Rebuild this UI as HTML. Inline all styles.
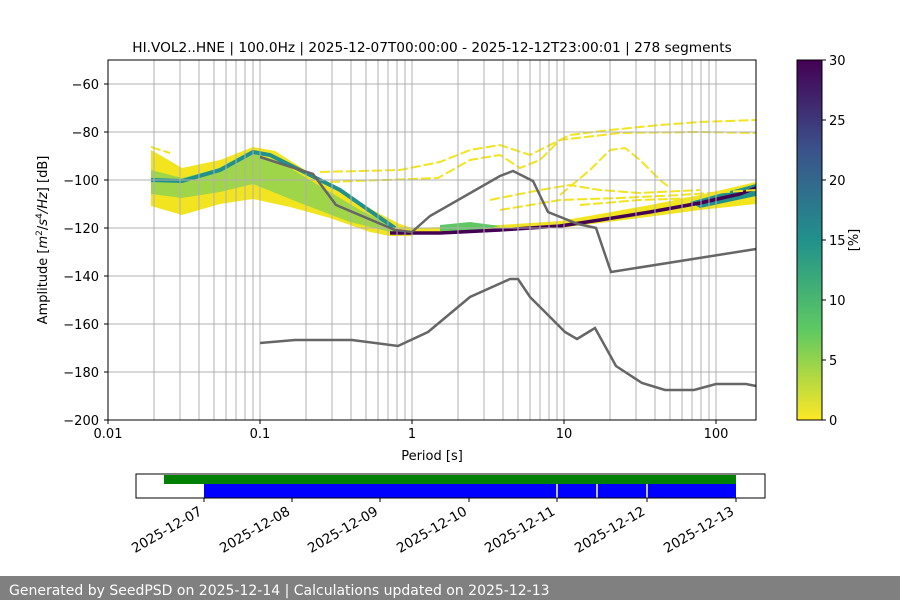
<!DOCTYPE html>
<html><head><meta charset="utf-8"><style>
body{margin:0;background:#fff}
svg{display:block;font-family:"DejaVu Sans","Liberation Sans",sans-serif}
</style></head><body>
<svg width="900" height="600" viewBox="0 0 900 600">
<defs><linearGradient id="vir" x1="0" y1="1" x2="0" y2="0">
<stop offset="0" stop-color="#fde725"/><stop offset="0.25" stop-color="#5ec962"/>
<stop offset="0.5" stop-color="#21918c"/><stop offset="0.75" stop-color="#3b528b"/>
<stop offset="1" stop-color="#440154"/></linearGradient></defs>
<rect width="900" height="600" fill="#fff"/>
<text x="432" y="52" font-size="13.7" text-anchor="middle">HI.VOL2..HNE | 100.0Hz | 2025-12-07T00:00:00 - 2025-12-12T23:00:01 | 278 segments</text>
<!-- PSD -->
<polygon fill="#f2e51f" points="151,150 160,155 182,168 220,160 253,147 275,151 310,173 345,194 380,214 400,224 412,228 412,236 390,236 370,232 330,218 290,207 253,199 220,204 182,215 151,206"/>
<polygon fill="#9fd548" points="151,170 182,178 220,168 253,153 280,162 320,186 360,210 395,227 395,233 350,222 300,203 253,184 220,192 182,198 151,194"/>
<polyline fill="none" stroke="#21918c" stroke-width="4" points="151,180 182,181 220,170 253,152 270,155 300,170 340,190 370,211 395,228"/>
<polygon fill="#f2e51f" points="412,228 500,225 560,221 600,214 650,205 700,195 756,182 756,204 700,210 640,218 560,228 412,234"/>
<polygon fill="#5ec962" points="440,225 470,222 500,226 480,230 440,231"/>
<polygon fill="#21918c" points="690,202 756,184 756,196 700,208"/>
<polyline fill="none" stroke="#440154" stroke-width="3.5" points="390,233 440,233 500,230 560,226 600,220 650,212 700,203 740,194 756,188"/>
<g fill="none" stroke="#f2e51f" stroke-width="2" stroke-dasharray="10 3">
<polyline points="151,147 170,153"/>
<polyline points="320,172 400,170 440,162 470,150 500,145 530,155 540,150 570,135 610,130 660,125 700,122 756,120"/>
<polyline points="330,182 438,178 470,160 500,155 520,168 540,160 560,140 620,133 700,132 756,133"/>
<polyline points="560,195 590,170 610,150 625,148 640,160 660,180 670,188"/>
<polyline points="490,200 540,190 570,185 600,190 640,193 700,190"/>
<polyline points="500,210 560,200 620,198 680,195 756,190"/>
<polyline points="580,205 640,200 700,198"/>
</g>
<!-- grid -->
<g stroke="#b0b0b0" stroke-width="1">
<line x1="154" y1="60" x2="154" y2="420"/><line x1="180" y1="60" x2="180" y2="420"/><line x1="199" y1="60" x2="199" y2="420"/><line x1="214" y1="60" x2="214" y2="420"/><line x1="226" y1="60" x2="226" y2="420"/><line x1="236" y1="60" x2="236" y2="420"/><line x1="245" y1="60" x2="245" y2="420"/><line x1="253" y1="60" x2="253" y2="420"/><line x1="260" y1="60" x2="260" y2="420"/>
<line x1="306" y1="60" x2="306" y2="420"/><line x1="332" y1="60" x2="332" y2="420"/><line x1="351" y1="60" x2="351" y2="420"/><line x1="366" y1="60" x2="366" y2="420"/><line x1="378" y1="60" x2="378" y2="420"/><line x1="388" y1="60" x2="388" y2="420"/><line x1="397" y1="60" x2="397" y2="420"/><line x1="405" y1="60" x2="405" y2="420"/><line x1="412" y1="60" x2="412" y2="420"/>
<line x1="458" y1="60" x2="458" y2="420"/><line x1="484" y1="60" x2="484" y2="420"/><line x1="503" y1="60" x2="503" y2="420"/><line x1="518" y1="60" x2="518" y2="420"/><line x1="530" y1="60" x2="530" y2="420"/><line x1="540" y1="60" x2="540" y2="420"/><line x1="549" y1="60" x2="549" y2="420"/><line x1="557" y1="60" x2="557" y2="420"/><line x1="564" y1="60" x2="564" y2="420"/>
<line x1="610" y1="60" x2="610" y2="420"/><line x1="636" y1="60" x2="636" y2="420"/><line x1="655" y1="60" x2="655" y2="420"/><line x1="670" y1="60" x2="670" y2="420"/><line x1="682" y1="60" x2="682" y2="420"/><line x1="692" y1="60" x2="692" y2="420"/><line x1="701" y1="60" x2="701" y2="420"/><line x1="709" y1="60" x2="709" y2="420"/><line x1="716" y1="60" x2="716" y2="420"/>
<line x1="108" y1="84" x2="756" y2="84"/><line x1="108" y1="132" x2="756" y2="132"/><line x1="108" y1="180" x2="756" y2="180"/><line x1="108" y1="228" x2="756" y2="228"/><line x1="108" y1="276" x2="756" y2="276"/><line x1="108" y1="324" x2="756" y2="324"/><line x1="108" y1="372" x2="756" y2="372"/>
</g>
<!-- models -->
<g fill="none" stroke="#666" stroke-width="2.5">
<polyline points="260,157 313,174 336,205 395,230 412,232 430,216 500,176 513,171 533,181 548,212 578,224 596,228 611,272 756,249"/>
<polyline points="260,343 295,340 352,340 398,346 428,332 470,297 510,279 518,279 530,297 565,332 577,339 595,328 616,366 642,383 665,390 694,390 716,384 746,384 756,386"/>
</g>
<rect x="108" y="60" width="648" height="360" fill="none" stroke="#000" stroke-width="1"/>
<g stroke="#000"><line x1="108" y1="420" x2="108" y2="424"/><line x1="260" y1="420" x2="260" y2="424"/><line x1="412" y1="420" x2="412" y2="424"/><line x1="564" y1="420" x2="564" y2="424"/><line x1="716" y1="420" x2="716" y2="424"/>
<line x1="104" y1="84" x2="108" y2="84"/><line x1="104" y1="132" x2="108" y2="132"/><line x1="104" y1="180" x2="108" y2="180"/><line x1="104" y1="228" x2="108" y2="228"/><line x1="104" y1="276" x2="108" y2="276"/><line x1="104" y1="324" x2="108" y2="324"/><line x1="104" y1="372" x2="108" y2="372"/><line x1="104" y1="420" x2="108" y2="420"/></g>
<g font-size="13" text-anchor="middle"><text x="108" y="438">0.01</text><text x="260" y="438">0.1</text><text x="412" y="438">1</text><text x="564" y="438">10</text><text x="716" y="438">100</text>
<text x="432" y="460">Period [s]</text></g>
<g font-size="13" text-anchor="end"><text x="99" y="89">−60</text><text x="99" y="137">−80</text><text x="99" y="185">−100</text><text x="99" y="233">−120</text><text x="99" y="281">−140</text><text x="99" y="329">−160</text><text x="99" y="377">−180</text><text x="99" y="425">−200</text></g>
<text transform="translate(47,240) rotate(-90)" font-size="13" text-anchor="middle">Amplitude [<tspan font-style="italic">m</tspan><tspan font-size="9" dy="-5">2</tspan><tspan dy="5">/</tspan><tspan font-style="italic">s</tspan><tspan font-size="9" dy="-5">4</tspan><tspan dy="5" font-style="italic">/Hz</tspan>] [dB]</text>
<!-- colorbar -->
<rect x="797" y="60" width="25" height="360" fill="url(#vir)" stroke="#000" stroke-width="1"/>
<g stroke="#000"><line x1="822" y1="60" x2="826" y2="60"/><line x1="822" y1="120" x2="826" y2="120"/><line x1="822" y1="180" x2="826" y2="180"/><line x1="822" y1="240" x2="826" y2="240"/><line x1="822" y1="300" x2="826" y2="300"/><line x1="822" y1="360" x2="826" y2="360"/><line x1="822" y1="420" x2="826" y2="420"/></g>
<g font-size="13"><text x="829" y="65">30</text><text x="829" y="125">25</text><text x="829" y="185">20</text><text x="829" y="245">15</text><text x="829" y="305">10</text><text x="829" y="365">5</text><text x="829" y="425">0</text></g>
<text transform="translate(858,240) rotate(-90)" font-size="13" text-anchor="middle">[%]</text>
<!-- timeline -->
<rect x="164" y="475" width="572" height="9" fill="#008000"/>
<rect x="204" y="484" width="532" height="14" fill="#0000ff"/>
<g stroke="#fff" stroke-width="1.5"><line x1="557" y1="484" x2="557" y2="498"/><line x1="597" y1="484" x2="597" y2="498"/><line x1="647" y1="484" x2="647" y2="498"/></g>
<rect x="136" y="474" width="629" height="24" fill="none" stroke="#000"/>
<g stroke="#000"><line x1="204" y1="498" x2="204" y2="502"/><line x1="292" y1="498" x2="292" y2="502"/><line x1="380" y1="498" x2="380" y2="502"/><line x1="469" y1="498" x2="469" y2="502"/><line x1="557" y1="498" x2="557" y2="502"/><line x1="647" y1="498" x2="647" y2="502"/><line x1="736" y1="498" x2="736" y2="502"/></g>
<g font-size="13.5" text-anchor="end">
<text transform="translate(203,514) rotate(-30)">2025-12-07</text><text transform="translate(291,514) rotate(-30)">2025-12-08</text><text transform="translate(379,514) rotate(-30)">2025-12-09</text><text transform="translate(468,514) rotate(-30)">2025-12-10</text><text transform="translate(556,514) rotate(-30)">2025-12-11</text><text transform="translate(646,514) rotate(-30)">2025-12-12</text><text transform="translate(735,514) rotate(-30)">2025-12-13</text></g>
<rect x="0" y="576" width="900" height="24" fill="#808080"/>
<text x="9" y="595" font-size="14" fill="#fff">Generated by SeedPSD on 2025-12-14 | Calculations updated on 2025-12-13</text>
</svg>
</body></html>
